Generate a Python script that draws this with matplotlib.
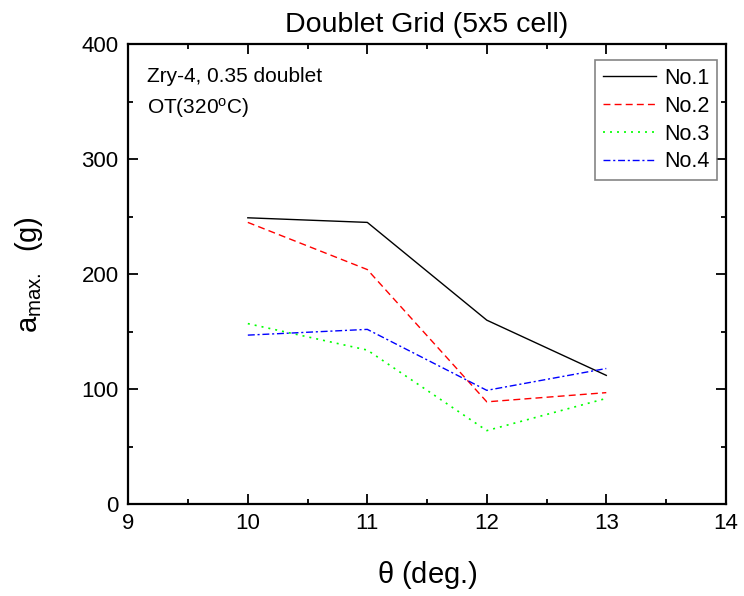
import matplotlib
matplotlib.use("Agg")
import matplotlib.pyplot as plt
from matplotlib.ticker import MultipleLocator

plt.rcParams['font.family'] = ['Liberation Sans', 'DejaVu Sans']
plt.rcParams['mathtext.fontset'] = 'custom'
plt.rcParams['mathtext.rm'] = 'Liberation Sans'
plt.rcParams['mathtext.it'] = 'Liberation Sans'

theta = [10, 11, 12, 13]
no1 = [249, 245, 160, 112]
no2 = [245, 204, 89, 97]
no3 = [157, 134, 64, 92]
no4 = [147, 152, 99, 118]
labels = ['No.1', 'No.2', 'No.3', 'No.4']

fig = plt.figure(figsize=(7.44, 5.96), dpi=100)
ax = fig.add_axes([0.1725, 0.154, 0.803, 0.772])

ax.plot(theta, no1, color='black', linestyle='-', linewidth=1.0, label=labels[0])
ax.plot(theta, no2, color='red', linestyle=(0, (5, 3)), linewidth=1.0, label=labels[1])
ax.plot(theta, no3, color='#00ff00', linestyle=(0, (1.2, 3)), linewidth=1.2, label=labels[2])
ax.plot(theta, no4, color='blue', linestyle=(0, (5, 2, 1.5, 2)), linewidth=1.0, label=labels[3])

ax.set_xlim(9, 14)
ax.set_ylim(0, 400)
ax.xaxis.set_major_locator(MultipleLocator(1))
ax.xaxis.set_minor_locator(MultipleLocator(0.5))
ax.yaxis.set_major_locator(MultipleLocator(100))
ax.yaxis.set_minor_locator(MultipleLocator(50))
ax.tick_params(which='both', direction='in', top=True, right=True, labelsize=16, width=1.3)
ax.tick_params(which='major', length=7)
ax.tick_params(which='minor', length=3.5)
ax.tick_params(axis='x', pad=6)
ax.tick_params(axis='y', pad=7)
for s in ax.spines.values():
    s.set_linewidth(1.6)

ax.set_title('Doublet Grid (5x5 cell)', fontsize=20.5, pad=9)
ax.set_xlabel(r'$\theta$ (deg.)', fontsize=21, labelpad=18)
ax.set_ylabel(r'a$_{\rm max.}$  (g)', fontsize=21, labelpad=26)

ax.text(0.031, 0.929, 'Zry-4, 0.35 doublet', transform=ax.transAxes, fontsize=15, va='center')
ax.text(0.031, 0.861, r'OT(320$^{\rm o}$C)', transform=ax.transAxes, fontsize=15, va='center')

leg = ax.legend(loc='upper right', fontsize=15.5, handlelength=2.5, frameon=True, fancybox=False,
                edgecolor='#666666', borderpad=0.35, labelspacing=0.32, handletextpad=0.35,
                borderaxespad=0, bbox_to_anchor=(0.985, 0.965))
leg.get_frame().set_linewidth(1.2)

fig.savefig('out.png', dpi=100)
